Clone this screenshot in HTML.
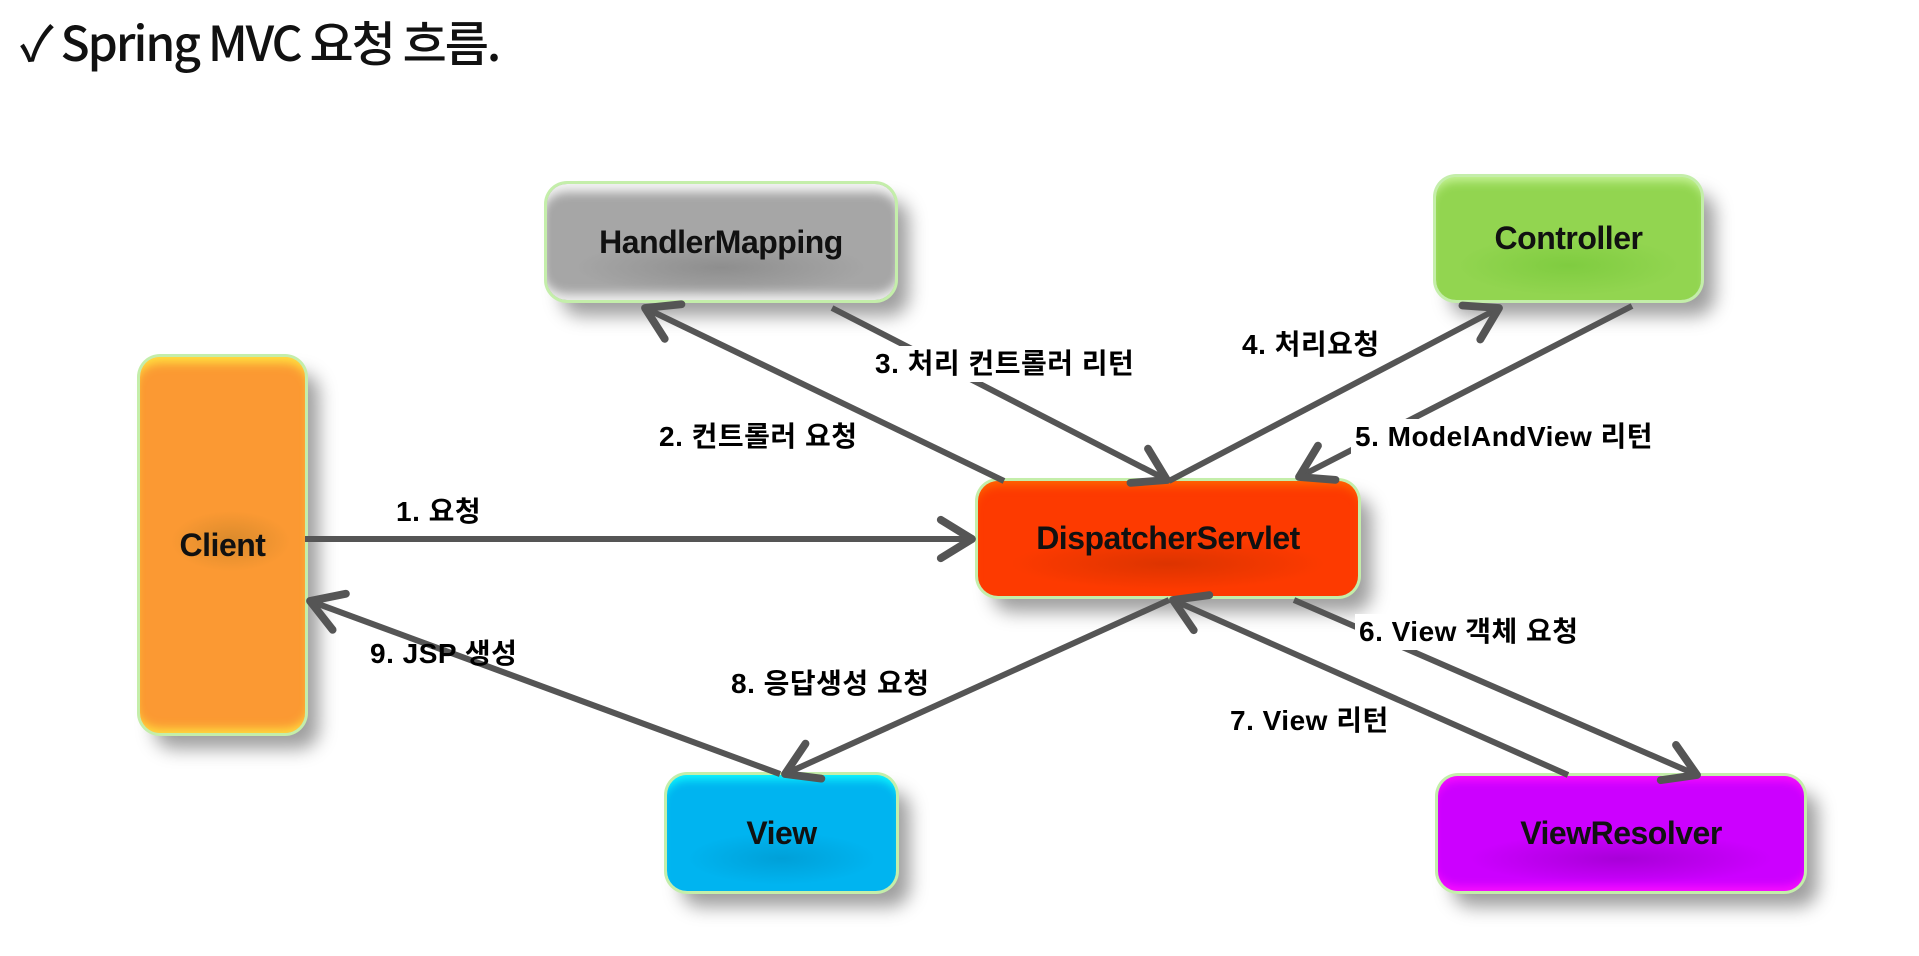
<!DOCTYPE html>
<html><head><meta charset="utf-8">
<style>
html,body{margin:0;padding:0;background:#fff;}
body{width:1919px;height:956px;position:relative;overflow:hidden;font-family:"Liberation Sans","Noto Sans CJK KR",sans-serif;}
.title{position:absolute;left:20px;top:10px;font-family:"Noto Sans CJK KR","Liberation Sans",sans-serif;font-size:48px;font-weight:500;letter-spacing:-2px;color:#111;line-height:60px;}
.box{position:absolute;border-radius:20px;display:flex;align-items:center;justify-content:center;font-weight:bold;font-size:32px;color:#111;letter-spacing:-0.5px;}
.lbl{position:absolute;font-weight:bold;font-size:28px;color:#000;white-space:nowrap;line-height:36px;padding:0 4px;letter-spacing:0.5px;}
.bg{background:#fff;}
svg{position:absolute;left:0;top:0;}
</style></head><body>
<div class="title">✓ Spring MVC 요청 흐름.</div>

<div class="box" style="left:547px;top:184px;width:348px;height:116px;background:radial-gradient(ellipse 60% 35% at 50% 72%,#8e8e8e,#a6a6a6 70%),#a6a6a6;box-shadow:0 0 0 3px #c4eeaa,inset 0 14px 10px -6px #f4f4f4,inset 0 -12px 10px -6px #f0f0f0,14px 16px 18px rgba(0,0,0,0.38);">HandlerMapping</div>
<div class="box" style="left:1436px;top:177px;width:265px;height:123px;background:radial-gradient(ellipse 60% 35% at 50% 72%,#7fcc40,#92d550 70%);box-shadow:0 0 0 3px #c4eeaa,inset 0 10px 10px -6px #c9f59a,14px 16px 18px rgba(0,0,0,0.38);">Controller</div>
<div class="box" style="left:140px;top:357px;width:165px;height:376px;background:radial-gradient(ellipse 45% 10% at 55% 49%,#d98a2c,#fb9933 80%);box-shadow:0 0 0 3px #c4eeaa,inset 0 12px 10px -6px #ffe040,inset 0 -10px 10px -6px #ffe040,14px 16px 18px rgba(0,0,0,0.38);">Client</div>
<div class="box" style="left:978px;top:481px;width:380px;height:115px;background:radial-gradient(ellipse 55% 30% at 50% 72%,#dc3400,#fd3a00 75%);box-shadow:0 0 0 3px #c4eeaa,inset 0 10px 10px -6px #ff6a00,14px 16px 18px rgba(0,0,0,0.38);">DispatcherServlet</div>
<div class="box" style="left:667px;top:775px;width:229px;height:116px;background:radial-gradient(ellipse 55% 30% at 50% 72%,#00a0d8,#00b4f0 75%);box-shadow:0 0 0 3px #c4eeaa,inset 0 10px 10px -6px #10ffff,14px 16px 18px rgba(0,0,0,0.38);">View</div>
<div class="box" style="left:1438px;top:776px;width:366px;height:115px;background:radial-gradient(ellipse 55% 30% at 50% 72%,#a800d8,#cc00ff 75%);box-shadow:0 0 0 3px #c4eeaa,inset 0 10px 10px -6px #ff10ff,inset 0 -10px 10px -6px #ff10ff,14px 16px 18px rgba(0,0,0,0.38);">ViewResolver</div>

<svg width="1919" height="956" viewBox="0 0 1919 956">
<defs>
<marker id="a" markerWidth="8" markerHeight="8" refX="6.2" refY="4" orient="auto" markerUnits="strokeWidth" viewBox="0 0 8 8">
<polyline points="1,0.8 6.2,4 1,7.2" fill="none" stroke="#555" stroke-width="1.3" stroke-linecap="round" stroke-linejoin="round"/>
</marker>
</defs>
<g stroke="#555" stroke-width="6" fill="none" marker-end="url(#a)">
<line x1="305" y1="539" x2="972" y2="539"/>
<line x1="1004" y1="481" x2="645" y2="308"/>
<line x1="832" y1="308" x2="1167" y2="480"/>
<line x1="1169" y1="481" x2="1499" y2="308"/>
<line x1="1632" y1="306" x2="1299" y2="477"/>
<line x1="1294" y1="600" x2="1697" y2="775"/>
<line x1="1568" y1="775" x2="1173" y2="600"/>
<line x1="1169" y1="600" x2="785" y2="774"/>
<line x1="780" y1="774" x2="310" y2="601"/>
</g>
</svg>

<div class="lbl" style="left:392px;top:494px;">1. 요청</div>
<div class="lbl" style="left:655px;top:419px;">2. 컨트롤러 요청</div>
<div class="lbl bg" style="left:871px;top:346px;">3. 처리 컨트롤러 리턴</div>
<div class="lbl bg" style="left:1238px;top:327px;">4. 처리요청</div>
<div class="lbl bg" style="left:1351px;top:419px;">5. ModelAndView 리턴</div>
<div class="lbl bg" style="left:1355px;top:614px;">6. View 객체 요청</div>
<div class="lbl bg" style="left:1226px;top:703px;">7. View 리턴</div>
<div class="lbl bg" style="left:727px;top:666px;">8. 응답생성 요청</div>
<div class="lbl" style="left:366px;top:636px;">9. JSP 생성</div>
</body></html>
